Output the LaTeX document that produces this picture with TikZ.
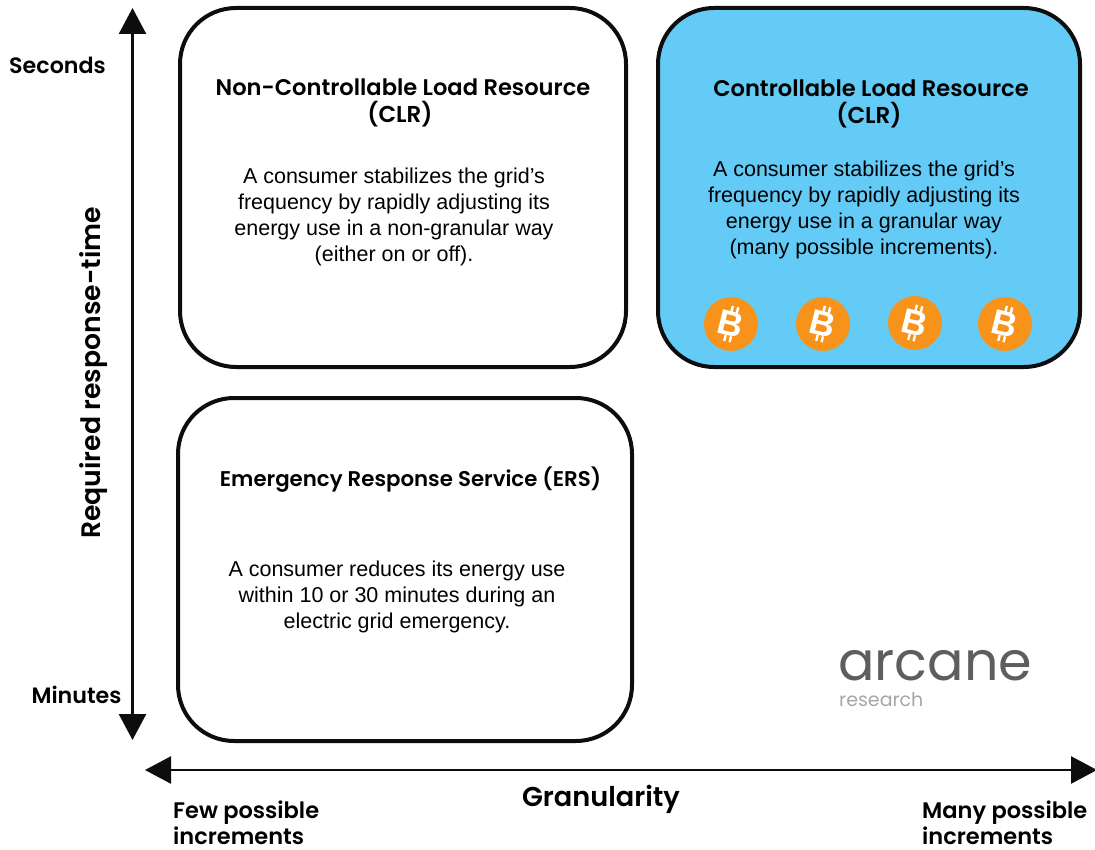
\documentclass[tikz,border=0pt]{standalone}
\usepackage{fontspec}
\setmainfont{Liberation Sans}
\newfontfamily\pop{Poppins SemiBold}
\newfontfamily\poplight{Poppins}
\usetikzlibrary{arrows.meta}
\definecolor{cardblue}{HTML}{63CBF6}
\definecolor{btc}{HTML}{F7931A}
\definecolor{axisblack}{HTML}{0D0D0D}
\newcommand{\fs}[2]{\fontsize{#1}{#2}\selectfont}
\tikzset{
 x=1pt,y=-1pt,
 card/.style={draw=axisblack,line width=4pt,rounded corners=56pt,anchor=north west,inner sep=0pt,outer sep=0pt},
 axisline/.style={draw=axisblack,line width=2.6pt,{Triangle[length=26pt,width=27pt]}-{Triangle[length=26pt,width=27pt]}},
 heading/.style={align=center,font=\pop\fs{22.6}{27},inner sep=0pt},
 body/.style={align=center,font=\fs{21.5}{26},inner sep=0pt},
 axlabel/.style={font=\pop\fs{22.2}{27},inner sep=0pt,align=left},
 coin/.style={circle,fill=btc,minimum size=54pt,inner sep=0pt},
}
\newcommand{\btcmark}[1]{%
 \node[coin] (#1) at (#1pos) {};
 \begin{scope}[shift={(#1pos)},rotate=-14,line width=2.4pt,white]
  \draw (-2.5,-18) -- (-2.5,-12) (3,-18) -- (3,-12) (-2.5,12) -- (-2.5,18) (3,12) -- (3,18);
  \node[transform shape,text=white,font=\bfseries\fs{35}{35},inner sep=0pt] at (0,0) {B};
 \end{scope}}
\begin{document}
\begin{tikzpicture}
\useasboundingbox (0,0) rectangle (1095,850);
\node[card,minimum width=446pt,minimum height=359pt] (clrN) at (180,8) {};
\node[card,fill=cardblue,minimum width=422pt,minimum height=359pt] (clrC) at (658,8) {};
\node[card,minimum width=454pt,minimum height=343pt] (ers) at (178,398) {};

\coordinate (vtop) at (132.5,8);
\coordinate (vbot) at (132.5,740);
\coordinate (hleft) at (145,770);
\coordinate (hright) at (1097,770);
\draw[axisline] (vbot) -- (vtop);
\draw[axisline] (hleft) -- (hright);

\node[axlabel] (sec) at (57.5,65) {Seconds};
\node[axlabel] (min) at (76.5,695) {Minutes};
\node[font=\pop\fs{26.7}{27},inner sep=0pt,rotate=90] (ylab) at (94,373) {Required response-time};
\node[font=\pop\fs{27.2}{27},inner sep=0pt] (xlab) at (601,799) {Granularity};
\node[axlabel,anchor=west,font=\pop\fs{22.5}{26}] (few) at (173,823) {Few possible\\increments};
\node[axlabel,anchor=west,font=\pop\fs{22.5}{26}] (many) at (922,822.5) {Many possible\\increments};

\node[heading] (h1a) at (403,87) {Non-Controllable Load Resource};
\node[heading,font=\pop\fs{23}{27}] (h1b) at (400,114) {(CLR)};
\node[body] (b1) at (394,217) {A consumer stabilizes the grid’s\\frequency by rapidly adjusting its\\energy use in a non-granular way\\(either on or off).};

\node[heading] (h2a) at (871,88) {Controllable Load Resource};
\node[heading,font=\pop\fs{23}{27}] (h2b) at (869,115) {(CLR)};
\node[body] (b2) at (864,210) {A consumer stabilizes the grid’s\\frequency by rapidly adjusting its\\energy use in a granular way\\(many possible increments).};

\node[heading,font=\pop\fs{21.3}{27}] (h3) at (410.5,480) {Emergency Response Service (ERS)};
\node[body] (b3) at (397,597) {A consumer reduces its energy use\\within 10 or 30 minutes during an\\electric grid emergency.};

\coordinate (c1pos) at (731,324);
\coordinate (c2pos) at (823,324);
\coordinate (c3pos) at (915,323);
\coordinate (c4pos) at (1005,324);
\btcmark{c1}\btcmark{c2}\btcmark{c3}\btcmark{c4}

\node[font=\poplight\fs{54}{54},text=black!63,inner sep=0pt,anchor=base west,text depth=0pt] (arc) at (838,680) {arcane};
\node[font=\poplight\fs{19}{19},text=black!35,inner sep=0pt,anchor=base west,text height=13pt,text depth=0pt] (res) at (839,706) {research};
\end{tikzpicture}
\end{document}
